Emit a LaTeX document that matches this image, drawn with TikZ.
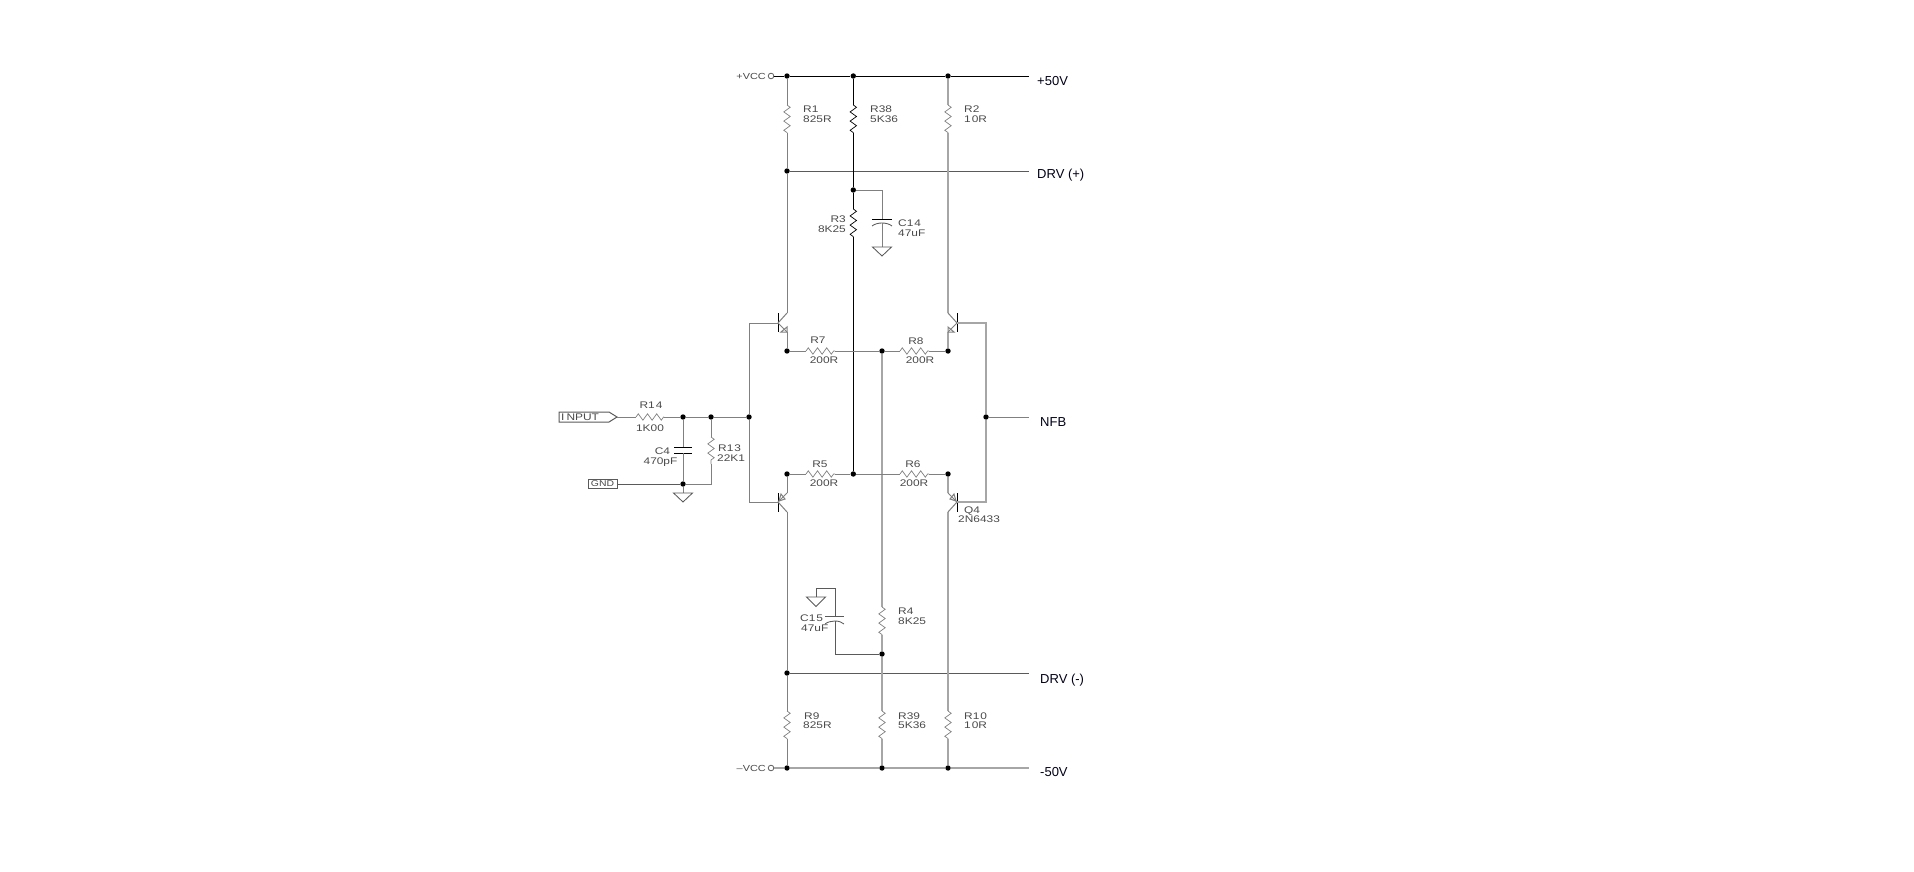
\documentclass[tikz,border=0pt]{standalone}
\usepackage{fontspec}
\setmainfont{Liberation Sans}
\newfontfamily\smallf[FakeStretch=1.24]{Liberation Sans}
\usetikzlibrary{decorations.pathmorphing,positioning}
\definecolor{wa}{HTML}{000000}
\definecolor{wb}{HTML}{808080}
\definecolor{wc}{HTML}{A6A6A6}
\definecolor{wd}{HTML}{5A5A5A}
\definecolor{txs}{HTML}{4A4A4A}
\definecolor{txb}{HTML}{000018}
\tikzset{
  wirea/.style={draw=wa,line width=0.85pt},
  wireb/.style={draw=wb,line width=1pt},
  wirec/.style={draw=wc,line width=1.7pt},
  wired/.style={draw=wd,line width=0.85pt},
  res/.style={decorate,decoration={zigzag,amplitude=3.2pt,segment length=9.2pt},line width=0.7pt},
  jdot/.style={circle,fill=black,draw=none,inner sep=0pt,minimum size=5.4pt},
  lbl/.style={inner sep=0pt,text height=7pt,text depth=0pt,text=txs,font=\smallf\fontsize{9.6}{10}\selectfont},
  vcc/.style={lbl,anchor=east,font=\smallf\fontsize{8.8}{10}\selectfont},
  big/.style={inner sep=0pt,anchor=west,text=txb,text height=9.5pt,text depth=0pt,font=\fontsize{13}{14}\selectfont},
  term/.style={circle,draw=wd,line width=0.8pt,fill=white,inner sep=0pt,minimum size=5.6pt},
  tag/.style={draw=wd,line width=1pt},
}
\begin{document}
\begin{tikzpicture}[x=1pt,y=-1pt]
\useasboundingbox (0,0) rectangle (1914,872);
\fill[white] (0,0) rectangle (1914,872);
% junctions
\foreach \n/\x/\y in {jt1/787/76,jt2/853.3/76,jt3/948/76,jd/787/171,jc14/853.3/190,
  j7/787/351,jm/882/351,j8/948/351,j5/787/474,jn/853.3/474,j6/948/474,
  jc15/882/654,jdm/787/673,jb1/787/768,jb2/882/768,jb3/948/768,
  ji1/683/417,ji2/711/417,ji3/749/417,jnfb/986/417,jg/683/484}
  {\node[jdot] (\n) at (\x,\y) {};}
% free corners
\coordinate (endp) at (1029,76);
\coordinate (enddp) at (1029,171);
\coordinate (endnfb) at (1029,417);
\coordinate (enddm) at (1029,673);
\coordinate (endm) at (1029,768);
\coordinate (q1b) at (778,323);\coordinate (q1c) at (787,313);\coordinate (q1e) at (787,332);
\coordinate (q2b) at (957,323);\coordinate (q2c) at (948,313);\coordinate (q2e) at (948,332);
\coordinate (q3b) at (778,502);\coordinate (q3e) at (787,493);\coordinate (q3c) at (787,512);
\coordinate (q4b) at (957,502);\coordinate (q4e) at (948,493);\coordinate (q4c) at (948,512);
\coordinate (bl1) at (749,323);\coordinate (bl2) at (749,502);
\coordinate (br1) at (986,323);\coordinate (br2) at (986,502);
% terminals
\node[term] (vp) at (771,76) {};
\node[term] (vm) at (771,768) {};
% rails
\draw[wirea] (vp) -- (jt1) -- (jt2) -- (jt3) -- (endp);
\draw[wired] (jd) -- (enddp);
\draw[wired] (jdm) -- (enddm);
\draw[wirec] (vm) -- (jb1) -- (jb2) -- (jb3) -- (endm);
% left column
\draw[wireb] (jt1) -- (787,105); \draw[wireb,res] (787,105) -- (787,133); \draw[wireb] (787,133) -- (jd) -- (q1c);
\draw[wireb] (q1e) -- (j7);
\draw[wireb] (j5) -- (q3e);
\draw[wireb] (q3c) -- (jdm) -- (787,711); \draw[wireb,res] (787,711) -- (787,739); \draw[wireb] (787,739) -- (jb1);
% middle black column
\draw[wirea] (jt2) -- (853.3,105); \draw[wirea,res] (853.3,105) -- (853.3,133);
\draw[wirea] (853.3,133) -- (jc14) -- (853.3,209); \draw[wirea,res] (853.3,209) -- (853.3,237);
\draw[wirea] (853.3,237) -- (jn);
% x=882 column
\draw[wirec] (jm) -- (882,607); \draw[wirec,res,draw=wb] (882,607) -- (882,635);
\draw[wirec] (882,635) -- (jc15) -- (882,711); \draw[wirec,res,draw=wb] (882,711) -- (882,739);
\draw[wirec] (882,739) -- (jb2);
% right column
\draw[wirec] (jt3) -- (948,105); \draw[wirec,res,draw=wb] (948,105) -- (948,133);
\draw[wirec] (948,133) -- (q2c);
\draw[wirec] (q2e) -- (j8);
\draw[wirec] (j6) -- (q4e);
\draw[wirec] (q4c) -- (948,711); \draw[wirec,res,draw=wb] (948,711) -- (948,739);
\draw[wirec] (948,739) -- (jb3);
% row 351
\draw[wireb] (j7) -- (806,351); \draw[wireb,res] (806,351) -- (835,351); \draw[wireb] (835,351) -- (jm) -- (900,351);
\draw[wireb,res] (900,351) -- (929,351); \draw[wireb] (929,351) -- (j8);
% row 474
\draw[wireb] (j5) -- (806,474); \draw[wireb,res] (806,474) -- (835,474); \draw[wireb] (835,474) -- (jn) -- (900,474);
\draw[wireb,res] (900,474) -- (929,474); \draw[wireb] (929,474) -- (j6);
% transistors
\draw[wirea] (778,313) -- (778,332);
\draw[wirea] (957,313) -- (957,332);
\draw[wirea] (778,493) -- (778,512);
\draw[wirea] (957,493) -- (957,512);
\draw[wireb] (q1c) -- (q1b) -- (q1e);
\draw[wireb] (q2c) -- (q2b) -- (q2e);
\draw[wireb] (q3e) -- (q3b) -- (q3c);
\draw[wireb] (q4e) -- (q4b) -- (q4c);
\draw[wireb] (787,332) -- (787,327) -- (781,332) -- cycle;
\draw[wireb] (948,332) -- (948,327) -- (954,332) -- cycle;
\draw[wireb] (779,501) -- (781,494) -- (785,499) -- cycle;
\draw[wireb] (956,501) -- (954,494) -- (950,499) -- cycle;
% bases
\draw[wireb] (q1b) -- (bl1) -- (ji3) -- (bl2) -- (q3b);
\draw[wirec] (q2b) -- (br1) -- (jnfb) -- (br2) -- (q4b);
\draw[wireb] (jnfb) -- (endnfb);
% C14
\draw[wireb] (jc14) -- (882,190) -- (882,219);
\draw[wirea] (872,219) -- (892,219);
\draw[wired] (872,226) .. controls (877,222) and (887,222) .. (892,226);
\draw[wireb] (882,223) -- (882,247);
\coordinate (g14) at (882,247);
\draw[wired] (g14) ++(-9.5,0) -- ++(9.5,9) -- ++(9.5,-9) -- cycle;
% C15
\coordinate (g15) at (816,597);
\draw[wired] (g15) -- (816,588) -- (835,588) -- (835,616);
\draw[wired] (g15) ++(-9.5,0) -- ++(9.5,9.5) -- ++(9.5,-9.5) -- cycle;
\draw[wired] (825,616) -- (844,616);
\draw[wired] (825,624) .. controls (830,620) and (840,620) .. (844,624);
\draw[wired] (835,621) -- (835,654) -- (jc15);
% input section
\coordinate (inp) at (617,417);
\draw[tag] (559,412) -- (609,412) -- (inp) -- (609,422) -- (559,422) -- cycle;
\draw[wireb] (inp) -- (636,417); \draw[wireb,res] (636,417) -- (664,417);
\draw[wireb] (664,417) -- (ji1) -- (ji2) -- (ji3);
\draw[wireb] (ji1) -- (683,447);
\draw[wirea] (674,447) -- (692,447);
\draw[wirea] (674,453) -- (692,453);
\draw[wireb] (683,453) -- (jg);
\draw[wireb] (ji2) -- (711,437); \draw[wireb,res] (711,437) -- (711,464); \draw[wireb] (711,464) -- (711,484) -- (jg);
\node[draw=wd,line width=1pt,inner sep=0pt,minimum width=29pt,minimum height=9.5pt,text=txs,font=\smallf\fontsize{8.4}{9}\selectfont] (gndt) at (602.5,484) {GND};
\draw[wired] (gndt) -- (jg);
\draw[wireb] (jg) -- (683,493);
\coordinate (g4) at (683,493);
\draw[wired] (g4) ++(-9.5,0) -- ++(9.5,9) -- ++(9.5,-9) -- cycle;
% labels
\node[vcc] (lvp) at (766,76) {+VCC};
\node[vcc] (lvm) at (766,768) {–VCC};
\node[lbl,anchor=west] (tinp) at (561,417) {I\kern2pt NPUT};
\node[big] (t50p) at (1037,81) {+50V};
\node[big] (tdp) at (1037,174) {DRV (+)};
\node[big] (tnfb) at (1040,422) {NFB};
\node[big] (tdm) at (1040,679) {DRV (-)};
\node[big] (t50m) at (1040,772) {-50V};
\node[lbl,anchor=west] (lr1) at (803,109) {R1};
\node[lbl,anchor=west] (vr1) at (803,119) {825R};
\node[lbl,anchor=west] (lr38) at (870,109) {R38};
\node[lbl,anchor=west] (vr38) at (870,119) {5K36};
\node[lbl,anchor=west] (lr2) at (964,109) {R2};
\node[lbl,anchor=west] (vr2) at (964,119) {1\kern1pt 0R};
\node[lbl,anchor=east] (lr3) at (846,219) {R3};
\node[lbl,anchor=east] (vr3) at (846,229) {8K25};
\node[lbl,anchor=west] (lc14) at (898,223) {C1\kern1pt 4};
\node[lbl,anchor=west] (vc14) at (898,233) {47uF};
\node[lbl] (lr14) at (651,405) {R1\kern1pt 4};
\node[lbl] (vr14) at (650,428) {1K00};
\node[lbl] (lc4) at (662.5,451) {C4};
\node[lbl] (vc4) at (660.5,461) {470pF};
\node[lbl,anchor=west] (lr13) at (718,448) {R1\kern1pt 3};
\node[lbl,anchor=west] (vr13) at (717,458) {22K1};
\node[lbl] (lr7) at (818,340) {R7};
\node[lbl] (vr7) at (824,360) {200R};
\node[lbl] (lr8) at (916,341) {R8};
\node[lbl] (vr8) at (920,360) {200R};
\node[lbl] (lr5) at (820,464) {R5};
\node[lbl] (vr5) at (824,483) {200R};
\node[lbl] (lr6) at (913,464) {R6};
\node[lbl] (vr6) at (914,483) {200R};
\node[lbl,anchor=west] (lq4) at (964,510) {Q4};
\node[lbl,anchor=west] (vq4) at (958,519) {2N6433};
\node[lbl,anchor=west] (lr4) at (898,611) {R4};
\node[lbl,anchor=west] (vr4) at (898,621) {8K25};
\node[lbl,anchor=west] (lc15) at (800,618) {C1\kern1pt 5};
\node[lbl,anchor=west] (vc15) at (801,628) {47uF};
\node[lbl,anchor=west] (lr9) at (804,716) {R9};
\node[lbl,anchor=west] (vr9) at (803,725) {825R};
\node[lbl,anchor=west] (lr39) at (898,716) {R39};
\node[lbl,anchor=west] (vr39) at (898,725) {5K36};
\node[lbl,anchor=west] (lr10) at (964,716) {R1\kern1pt 0};
\node[lbl,anchor=west] (vr10) at (964,725) {1\kern1pt 0R};
\end{tikzpicture}
\end{document}
